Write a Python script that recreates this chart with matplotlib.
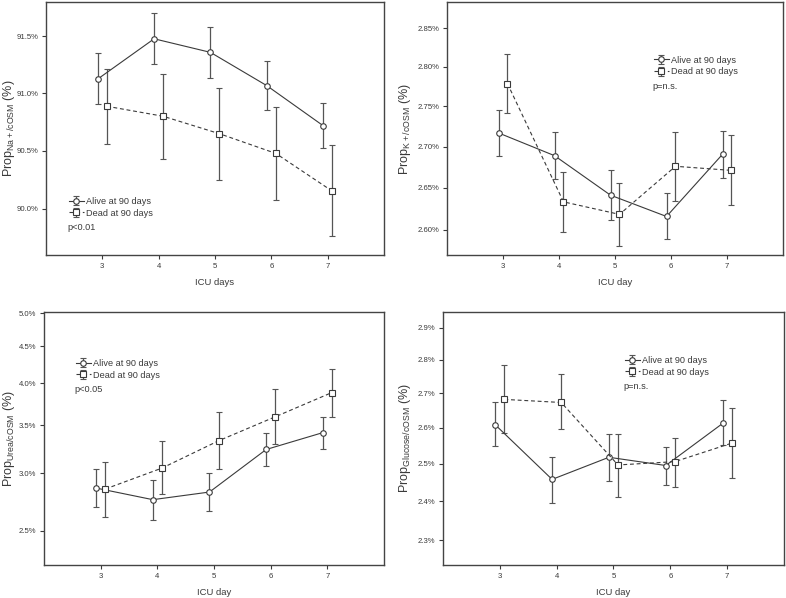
import numpy as np
import matplotlib
matplotlib.use('Agg')
import matplotlib.pyplot as plt
from matplotlib.ticker import FixedLocator, NullLocator, FuncFormatter

days = [3, 4, 5, 6, 7]

# Na+ / cOSM
na_alive = [91.125, 91.477, 91.358, 91.067, 90.718]
na_alive_lo = [90.907, 91.256, 91.134, 90.855, 90.52]
na_alive_hi = [91.35, 91.70, 91.578, 91.285, 90.913]
na_dead = [90.887, 90.80, 90.648, 90.477, 90.151]
na_dead_lo = [90.558, 90.427, 90.247, 90.078, 89.76]
na_dead_hi = [91.215, 91.17, 91.047, 90.878, 90.55]
na_ticks = [90.0, 90.5, 91.0, 91.5]

# K+ / cOSM
k_alive = [2.717, 2.689, 2.641, 2.6155, 2.6907]
k_alive_lo = [2.689, 2.661, 2.6115, 2.589, 2.6618]
k_alive_hi = [2.746, 2.718, 2.672, 2.6437, 2.719]
k_dead = [2.7787, 2.633, 2.618, 2.676, 2.671]
k_dead_lo = [2.7417, 2.597, 2.58, 2.634, 2.6294]
k_dead_hi = [2.8167, 2.669, 2.6556, 2.718, 2.7145]
k_ticks = [2.60, 2.65, 2.70, 2.75, 2.80, 2.85]

# Urea / cOSM
urea_alive = [2.863, 2.759, 2.827, 3.238, 3.417]
urea_alive_lo = [2.692, 2.589, 2.661, 3.071, 3.248]
urea_alive_hi = [3.045, 2.934, 3.0, 3.418, 3.594]
urea_dead = [2.854, 3.051, 3.329, 3.594, 3.883]
urea_dead_lo = [2.614, 2.806, 3.042, 3.291, 3.590]
urea_dead_hi = [3.113, 3.325, 3.652, 3.929, 4.191]
urea_ticks = [2.5, 3.0, 3.5, 4.0, 4.5, 5.0]

# Glucose / cOSM
glu_alive = [2.6087, 2.458, 2.518, 2.4955, 2.6125]
glu_alive_lo = [2.55, 2.396, 2.453, 2.444, 2.551]
glu_alive_hi = [2.673, 2.519, 2.582, 2.546, 2.681]
glu_dead = [2.682, 2.673, 2.497, 2.506, 2.557]
glu_dead_lo = [2.586, 2.596, 2.411, 2.437, 2.4627]
glu_dead_hi = [2.7835, 2.756, 2.582, 2.572, 2.658]
glu_ticks = [2.3, 2.4, 2.5, 2.6, 2.7, 2.8, 2.9]

plt.rcParams['font.family'] = ['Liberation Sans', 'DejaVu Sans']
plt.rcParams['mathtext.fontset'] = 'custom'
plt.rcParams['mathtext.rm'] = 'Liberation Sans'

dark = '#3a3a3a'
off = 0.08


def panel(ax, alive, alo, ahi, dead, dlo, dhi, ticks, fmt, ylim, ylab, xlab,
          leg_xy, ptext, ylab_x):
    x = np.array(days, dtype=float)
    alive = np.array(alive); dead = np.array(dead)
    aerr = [alive - np.array(alo), np.array(ahi) - alive]
    derr = [dead - np.array(dlo), np.array(dhi) - dead]
    ea = ax.errorbar(x - off, alive, yerr=aerr, color=dark, ecolor='#555555',
                     lw=0.8, elinewidth=0.9, capsize=2.5, capthick=0.9,
                     marker='o', ms=4, mfc='white', mec=dark, mew=0.8, ls='-')
    ed = ax.errorbar(x + off, dead, yerr=derr, color=dark, ecolor='#555555',
                     lw=0.8, elinewidth=0.9, capsize=2.5, capthick=0.9,
                     marker='s', ms=3.8, mfc='white', mec=dark, mew=0.8,
                     ls=(0, (3.5, 2.5)))
    ax.set_yscale('log')
    ax.set_xlim(2, 8)
    ax.set_ylim(*ylim)
    ax.xaxis.set_major_locator(FixedLocator(days))
    ax.yaxis.set_major_locator(FixedLocator(ticks))
    ax.yaxis.set_minor_locator(NullLocator())
    ax.yaxis.set_major_formatter(FuncFormatter(lambda v, p: fmt % v + '%'))
    ax.tick_params(direction='out', length=3, width=0.8, colors=dark,
                   labelsize=5.6, pad=2.5)
    for s in ax.spines.values():
        s.set_color('#444444')
        s.set_linewidth(1.0)
    ax.set_ylabel(r'Prop$_{\mathregular{%s}}$ (%%)' % ylab, fontsize=9,
                  color=dark)
    ax.yaxis.set_label_coords(ylab_x, 0.5)
    ax.set_xlabel(xlab, fontsize=6.8, color=dark)
    ax.xaxis.set_label_coords(0.5, -0.09)
    ax.legend([ea, ed], ['Alive at 90 days', 'Dead at 90 days'],
              loc='upper left', bbox_to_anchor=(leg_xy[0], leg_xy[1] + 0.025),
              frameon=False, fontsize=6.6, handlelength=1.6,
              handletextpad=0.25, labelspacing=0.3, borderpad=0,
              borderaxespad=0, labelcolor=dark)
    ax.text(leg_xy[0] - 0.005, leg_xy[1] - 0.098, ptext, transform=ax.transAxes,
            fontsize=6.6, color=dark, va='center', ha='left')


fig = plt.figure(figsize=(7.86, 5.98), dpi=100)
ax1 = fig.add_axes([0.0585, 0.5736, 0.430, 0.423])
ax2 = fig.add_axes([0.5687, 0.5736, 0.4275, 0.423])
ax3 = fig.add_axes([0.056, 0.0552, 0.4326, 0.423])
ax4 = fig.add_axes([0.5636, 0.0552, 0.4338, 0.423])

panel(ax1, na_alive, na_alive_lo, na_alive_hi, na_dead, na_dead_lo, na_dead_hi,
      na_ticks, '%.1f', (89.6, 91.8), 'Na+/cOSM', 'ICU days',
      (0.068, 0.205), 'p<0.01', -0.086)
panel(ax2, k_alive, k_alive_lo, k_alive_hi, k_dead, k_dead_lo, k_dead_hi,
      k_ticks, '%.2f', (2.570, 2.884), 'K+/cOSM', 'ICU day',
      (0.616, 0.763), 'p=n.s.', -0.101)
panel(ax3, urea_alive, urea_alive_lo, urea_alive_hi, urea_dead, urea_dead_lo,
      urea_dead_hi, urea_ticks, '%.1f', (2.24, 5.02), 'Urea/cOSM', 'ICU day',
      (0.094, 0.79), 'p<0.05', -0.079)
panel(ax4, glu_alive, glu_alive_lo, glu_alive_hi, glu_dead, glu_dead_lo,
      glu_dead_hi, glu_ticks, '%.1f', (2.239, 2.950), 'Glucose/cOSM', 'ICU day',
      (0.534, 0.802), 'p=n.s.', -0.088)

fig.savefig('out.png', dpi=100)
